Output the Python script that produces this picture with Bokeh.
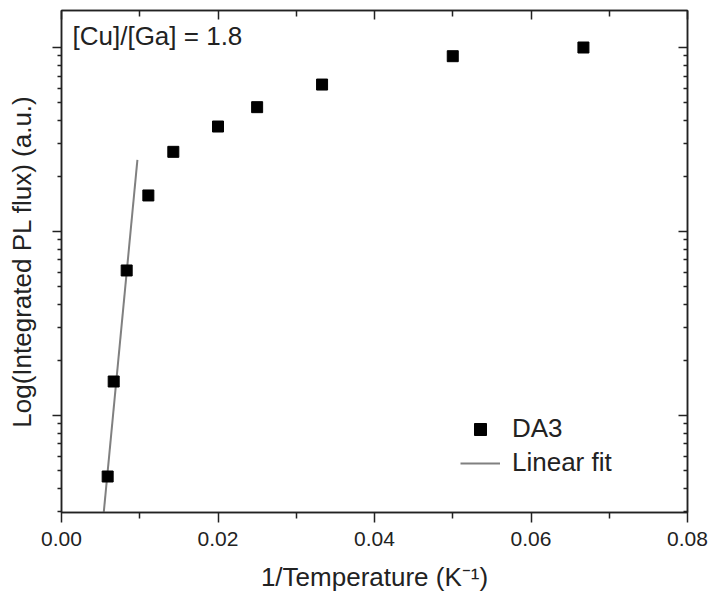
from bokeh.plotting import figure
from bokeh.models import (LinearAxis, LogAxis, FixedTicker, Legend, LegendItem,
                          Label, CustomJSTickFormatter)
from bokeh.embed import file_html
from bokeh.resources import INLINE

# Data
inv_temp = [0.0059, 0.00667, 0.00833, 0.0111, 0.01429, 0.02, 0.025, 0.0333, 0.05, 0.0667]
pl_flux = [0.00466, 0.0153, 0.0614, 0.157, 0.271, 0.372, 0.474, 0.629, 0.897, 1.0]

fit_x = [0.0054, 0.0097]
fit_y = [0.00297, 0.245]

x_ticks = [0.00, 0.02, 0.04, 0.06, 0.08]
x_minor = [0.01, 0.03, 0.05, 0.07]
y_major = [0.01, 0.1, 1.0]

FONT = "Liberation Sans"
INK = "#222222"

p = figure(width=709, height=596, output_backend="svg", toolbar_location=None,
           x_range=(0.0, 0.08), y_range=(0.00297, 1.589), y_axis_type="log",
           min_border_left=61, min_border_right=22, min_border_top=10,
           min_border_bottom=84)
p.xgrid.visible = False
p.ygrid.visible = False
p.outline_line_color = INK
p.outline_line_width = 1.5
p.background_fill_color = "white"
p.border_fill_color = "white"

y_minor = [k * 10.0 ** e for e in range(-3, 1) for k in range(2, 10)]


def blank():
    return CustomJSTickFormatter(code="return '';")


def style(a):
    a.axis_line_width = 1.5
    a.major_tick_line_width = 1.5
    a.minor_tick_line_width = 1.5
    a.axis_line_color = INK
    a.major_tick_line_color = INK
    a.minor_tick_line_color = INK


fit = p.line(fit_x, fit_y, line_color="#808080", line_width=2)
pts = p.scatter(inv_temp, pl_flux, marker="square", size=11, fill_color="black",
                line_color="black")

# bottom axis
xa = p.xaxis[0]
xa.ticker = FixedTicker(ticks=x_ticks, minor_ticks=x_minor)
xa.major_label_overrides = {0.0: "0.00", 0.02: "0.02", 0.04: "0.04", 0.06: "0.06", 0.08: "0.08"}
xa.axis_label = "1/Temperature (K⁻¹)"
xa.axis_label_text_font = FONT
xa.axis_label_text_font_style = "normal"
xa.axis_label_text_font_size = "26px"
xa.axis_label_text_color = INK
xa.axis_label_standoff = 13
xa.major_label_text_font = FONT
xa.major_label_text_font_size = "21px"
xa.major_label_text_color = INK
xa.major_label_standoff = 9
xa.major_tick_out = 10
xa.major_tick_in = 0
xa.minor_tick_out = 6
xa.minor_tick_in = 0
style(xa)

# left axis
ya = p.yaxis[0]
ya.ticker = FixedTicker(ticks=y_major, minor_ticks=y_minor)
ya.formatter = blank()
ya.axis_label = "Log(Integrated PL flux) (a.u.)"
ya.axis_label_text_font = FONT
ya.axis_label_text_font_style = "normal"
ya.axis_label_text_font_size = "26px"
ya.axis_label_text_color = INK
ya.axis_label_standoff = 16
ya.major_label_standoff = 0
ya.major_tick_out = 9
ya.major_tick_in = 0
ya.minor_tick_out = 4
ya.minor_tick_in = 0
style(ya)

# mirror axes
top = LinearAxis(ticker=FixedTicker(ticks=x_ticks, minor_ticks=x_minor),
                 formatter=blank(), major_label_standoff=0,
                 major_tick_in=9, major_tick_out=0, minor_tick_in=6, minor_tick_out=0)
style(top)
right = LogAxis(ticker=FixedTicker(ticks=y_major, minor_ticks=y_minor),
                formatter=blank(), major_label_standoff=0,
                major_tick_in=9, major_tick_out=0, minor_tick_in=4, minor_tick_out=0)
style(right)
p.add_layout(top, "above")
p.add_layout(right, "right")

# annotation
p.add_layout(Label(x=11, y=477, x_units="screen", y_units="screen",
                   text="[Cu]/[Ga] = 1.8", text_font=FONT, text_font_size="26px",
                   text_color=INK, text_baseline="alphabetic"))

legend = Legend(items=[LegendItem(label="DA3", renderers=[pts]),
                       LegendItem(label="Linear fit", renderers=[fit])],
                location=(399, 34), padding=0, margin=0, spacing=3,
                glyph_width=40, glyph_height=30, label_height=30, label_standoff=12,
                label_text_font=FONT, label_text_font_size="26px",
                label_text_color=INK,
                border_line_color=None, background_fill_alpha=0)
p.add_layout(legend, "center")

open("out.html", "w").write(file_html(p, INLINE))
